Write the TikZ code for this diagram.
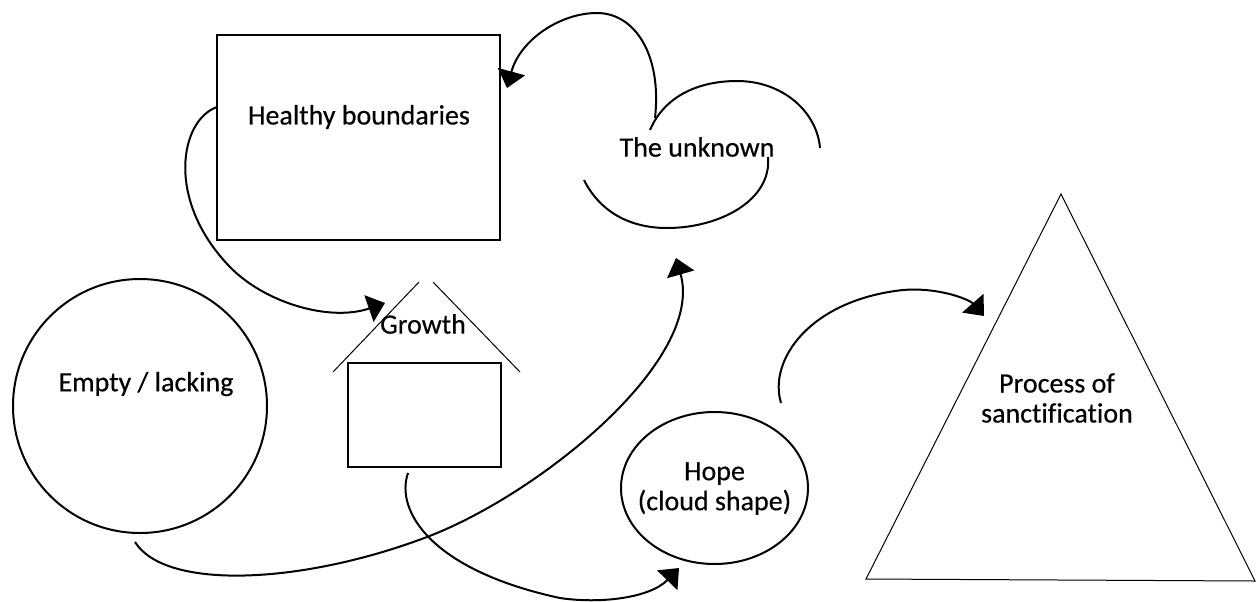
\documentclass[tikz,border=0pt]{standalone}
\usepackage{fontspec}
\setmainfont{Carlito}[Ligatures=NoCommon,FakeBold=0.4]
\usetikzlibrary{arrows.meta,shapes.geometric}
\begin{document}
\begin{tikzpicture}[x=0.5pt,y=-0.5pt,
  shapeline/.style={draw=black,line width=1pt},
  thinline/.style={draw=black,line width=0.5pt},
  lbl/.style={font=\fontsize{14}{15}\selectfont,align=center,inner sep=0pt},
  flow/.style={draw=black,line width=1pt,-{Triangle[length=8.5pt,width=14pt]}},
  arcline/.style={draw=black,line width=1pt}]
\useasboundingbox (0,0) rectangle (1257,601);

% --- shapes ---
\node[shapeline,rectangle,minimum width=141.5pt,minimum height=102.5pt,inner sep=0pt] (hb) at (358.5,137.5) {};
\node[lbl] (hbt) at (359,117) {Healthy boundaries};

\node[shapeline,circle,minimum size=127pt,inner sep=0pt] (empty) at (140,406) {};
\node[lbl] (emptyt) at (146,384) {Empty / lacking};

% house: roof and body
\coordinate (roofL) at (333,372);
\coordinate (roofLt) at (419,282);
\coordinate (roofRt) at (433,282);
\coordinate (roofR) at (520,372);
\draw[thinline] (roofL) -- (roofLt);
\draw[thinline] (roofRt) -- (roofR);
\node[shapeline,rectangle,minimum width=76.5pt,minimum height=52pt,inner sep=0pt] (house) at (424.5,415) {};
\node[lbl] (growth) at (423,324) {Growth};

\node[shapeline,ellipse,minimum width=93.5pt,minimum height=76pt,inner sep=0pt] (hope) at (714.5,488) {};
\node[lbl] (hopet) at (714.5,488.5) {Hope\\(cloud shape)};

% triangle
\coordinate (apex) at (1061,194);
\coordinate (triBL) at (866,579);
\coordinate (triBR) at (1255,581);
\draw[thinline] (apex) -- (triBL) -- (triBR) -- cycle;
\node[lbl] (proc) at (1057,398) {Process of\\sanctification};

% cloud of the unknown (open arcs)
\node[lbl] (unk) at (697,147) {The unknown};
\draw[arcline] (650,130) .. controls (665,95) and (700,81) .. (737,81)
               .. controls (783,81) and (817,112) .. (820,148);
\draw[arcline] (584,180) .. controls (600,212) and (630,228) .. (667,228)
               .. controls (720,228) and (772,200) .. (768,157);

% --- connector end points ---
\coordinate (c1s) at (217,107);
\coordinate (c1e) at (385,303);
\coordinate (c2s) at (135,542);
\coordinate (c2e) at (676,258);
\coordinate (c3s) at (408,473);
\coordinate (c3e) at (679,568);
\coordinate (c4s) at (781,403);
\coordinate (c4e) at (984,316);
\coordinate (c5s) at (655,118);
\coordinate (c5e) at (507,88);

% --- connectors ---
\draw[flow] (c1s) .. controls (180,120) and (165,200) .. (230,267)
            .. controls (265,303) and (330,322) .. (c1e);
\draw[flow] (c2s) .. controls (165,590) and (300,585) .. (427,537)
            .. controls (540,494) and (705,360) .. (c2e);
\draw[flow] (c3s) .. controls (395,510) and (430,570) .. (560,598)
            .. controls (600,604) and (650,598) .. (c3e);
\draw[flow] (c4s) .. controls (768,360) and (810,300) .. (903,290)
            .. controls (940,287) and (970,300) .. (c4e);
\draw[flow] (c5s) .. controls (662,55) and (635,13) .. (597,13)
            .. controls (560,13) and (520,40) .. (c5e);
\end{tikzpicture}
\end{document}
